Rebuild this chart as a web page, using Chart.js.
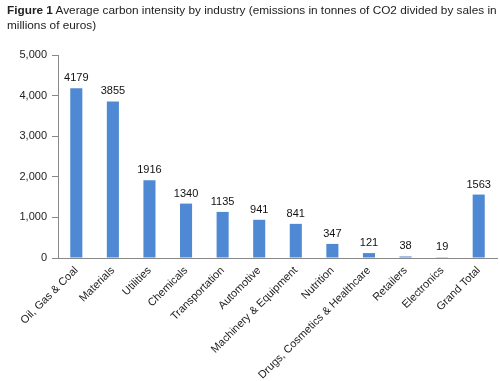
<!DOCTYPE html>
<html>
<head>
<meta charset="utf-8">
<script src="https://cdn.jsdelivr.net/npm/chart.js@4"></script>
<style>
html,body{margin:0;padding:0;background:#fff;}
#wrap{position:relative;width:500px;height:381px;overflow:hidden;}
#title{position:absolute;left:7px;top:3px;width:493px;font-family:"Liberation Sans",Arial,sans-serif;font-size:11.8px;line-height:15px;color:#222;}
#title b{font-weight:bold;}
canvas{position:absolute;left:0;top:0;}
</style>
</head>
<body>
<div id="wrap">
<canvas id="c" width="500" height="381"></canvas>
<div id="title"><b>Figure 1</b> Average carbon intensity by industry (emissions in tonnes of CO2 divided by sales in millions of euros)</div>
</div>
<script>
const categories = ["Oil, Gas & Coal","Materials","Utilities","Chemicals","Transportation","Automotive","Machinery & Equipment","Nutrition","Drugs, Cosmetics & Healthcare","Retailers","Electronics","Grand Total"];
const values = [4179,3855,1916,1340,1135,941,841,347,121,38,19,1563];
const yTicks = [0,1000,2000,3000,4000,5000];

const FONT = "'Liberation Sans', Arial, sans-serif";

const labelPlugin = {
  id: 'valueLabels',
  afterDatasetsDraw(chart) {
    const ctx = chart.ctx;
    const meta = chart.getDatasetMeta(0);
    ctx.save();
    ctx.font = "11px " + FONT;
    ctx.fillStyle = "#111";
    ctx.textAlign = "center";
    ctx.textBaseline = "alphabetic";
    meta.data.forEach((bar, i) => {
      ctx.fillText(String(values[i]), bar.x, bar.y - 7);
    });
    ctx.restore();
  }
};

new Chart(document.getElementById('c'), {
  type: 'bar',
  data: {
    labels: categories,
    datasets: [{
      data: values,
      backgroundColor: '#4f88d3',
      borderWidth: 0,
      barPercentage: 0.66,
      categoryPercentage: 0.5
    }]
  },
  options: {
    responsive: false,
    animation: false,
    devicePixelRatio: 1,
    layout: { padding: { top: 55, right: 3, left: 0, bottom: 0 } },
    plugins: { legend: { display: false }, tooltip: { enabled: false }, title: { display: false } },
    scales: {
      x: {
        grid: { display: false, drawTicks: false },
        border: { display: true, color: '#888', width: 1 },
        ticks: {
          color: '#222',
          font: { family: FONT, size: 11 },
          minRotation: 45,
          maxRotation: 45,
          autoSkip: false,
          padding: 6
        },
        afterFit(scale) { scale.height = 123; }
      },
      y: {
        min: 0,
        max: 5000,
        afterBuildTicks(scale) { scale.ticks = yTicks.map(v => ({ value: v })); },
        grid: { drawOnChartArea: false, drawTicks: true, tickLength: 6, color: '#888' },
        border: { display: true, color: '#888', width: 1 },
        ticks: {
          color: '#222',
          font: { family: FONT, size: 11 },
          padding: 5,
          callback: v => v.toLocaleString('en-US')
        },
        afterFit(scale) { scale.width = 58; }
      }
    }
  },
  plugins: [labelPlugin]
});
</script>
</body>
</html>
